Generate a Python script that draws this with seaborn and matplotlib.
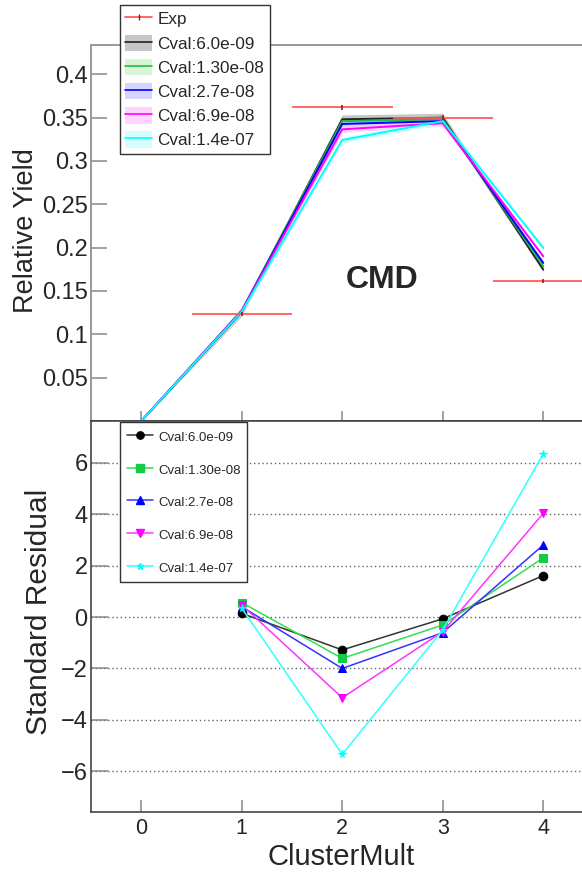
import numpy as np
import pandas as pd
import matplotlib
matplotlib.use("Agg")
import matplotlib.pyplot as plt
import seaborn as sns
from matplotlib.patches import Patch
from matplotlib.lines import Line2D
from matplotlib.ticker import FixedLocator, FuncFormatter

# ---- data -------------------------------------------------------------
cluster_mult = [0, 1, 2, 3, 4]
exp_x = [1, 2, 3, 4]
exp_yield = [0.1238, 0.3619, 0.3500, 0.1612]
exp_xerr = [0.5, 0.5, 0.5, 0.5]
exp_yerr = [0.0025, 0.0030, 0.0025, 0.0025]

cval_labels = ["Cval:6.0e-09", "Cval:1.30e-08", "Cval:2.7e-08",
               "Cval:6.9e-08", "Cval:1.4e-07"]

yield_6p0e09 = [0.0, 0.1255, 0.3481, 0.3500, 0.1747]
yield_1p30e08 = [0.0, 0.1275, 0.3460, 0.3480, 0.1785]
yield_2p7e08 = [0.0, 0.1270, 0.3427, 0.3460, 0.1824]
yield_6p9e08 = [0.0, 0.1272, 0.3365, 0.3435, 0.1900]
yield_1p4e07 = [0.0, 0.1262, 0.3242, 0.3460, 0.1997]

band_6p0e09 = [0.0, 0.0045, 0.0050, 0.0050, 0.0025]
band_1p30e08 = [0.0, 0.0035, 0.0030, 0.0030, 0.0020]
band_2p7e08 = [0.0, 0.0045, 0.0035, 0.0035, 0.0020]
band_6p9e08 = [0.0, 0.0035, 0.0035, 0.0035, 0.0020]
band_1p4e07 = [0.0, 0.0030, 0.0035, 0.0035, 0.0020]

resid_x = [1, 2, 3, 4]
resid_6p0e09 = [0.14, -1.28, -0.07, 1.61]
resid_1p30e08 = [0.56, -1.61, -0.31, 2.30]
resid_2p7e08 = [0.40, -2.00, -0.61, 2.80]
resid_6p9e08 = [0.47, -3.14, -0.57, 4.03]
resid_1p4e07 = [0.34, -5.34, -0.50, 6.34]

yields = [yield_6p0e09, yield_1p30e08, yield_2p7e08, yield_6p9e08, yield_1p4e07]
bands = [band_6p0e09, band_1p30e08, band_2p7e08, band_6p9e08, band_1p4e07]
resids = [resid_6p0e09, resid_1p30e08, resid_2p7e08, resid_6p9e08, resid_1p4e07]

# ---- styling ----------------------------------------------------------
sns.set_style("ticks")
plt.rcParams["font.family"] = ["Liberation Sans", "DejaVu Sans"]
plt.rcParams["axes.unicode_minus"] = True

line_colors = ["#222222", "#22bb44", "#0000ff", "#ff00ff", "#00ffff"]
band_colors = ["#b4b4b4", "#c8f2c8", "#c4c4ff", "#ffc4ff", "#c4ffff"]
band_alpha = [0.75, 0.7, 0.7, 0.7, 0.7]
res_line_colors = ["#333333", "#33dd55", "#3333ff", "#ff33ff", "#33ffff"]
res_marker_colors = ["#000000", "#11cc44", "#0000ff", "#ff00ff", "#00ffff"]
res_markers = ["o", "s", "^", "v", "*"]
res_msizes = [6.2, 6.2, 6.2, 6.2, 5.5]
exp_color = "#ff5a5a"

W, H = 582, 872
fig = plt.figure(figsize=(W / 100, H / 100), dpi=100)

left_px, right_px = 91, 588
top_px, mid_px, bot_px = 45, 421, 812
ax_top = fig.add_axes([left_px / W, 1 - mid_px / H, (right_px - left_px) / W, (mid_px - top_px) / H])
ax_bot = fig.add_axes([left_px / W, 1 - bot_px / H, (right_px - left_px) / W, (bot_px - mid_px) / H])

xlim = (-0.5, -0.5 + (right_px - left_px) / 100.5)

# ---- upper panel: relative yield -------------------------------------
x = np.array(cluster_mult, dtype=float)
for yv, bv, bc, ba in zip(yields, bands, band_colors, band_alpha):
    yv = np.array(yv)
    bv = np.array(bv)
    ax_top.fill_between(x, yv - bv, yv + bv, color=bc, alpha=ba, linewidth=0, zorder=1)

model_handles = []
for yv, lc, bc, ba in zip(yields, line_colors, band_colors, band_alpha):
    sns.lineplot(x=cluster_mult, y=yv, ax=ax_top, color=lc, linewidth=1.4,
                 legend=False, zorder=3)
    ln = Line2D([], [], color=lc, linewidth=1.2)
    pt = Patch(facecolor=bc, alpha=ba, edgecolor="none")
    model_handles.append((pt, ln))

ax_top.errorbar(exp_x, exp_yield, xerr=exp_xerr, fmt="none",
                ecolor=exp_color, elinewidth=1.3, capsize=0, zorder=4)
ax_top.errorbar(exp_x, exp_yield, yerr=exp_yerr, fmt="none",
                ecolor="#aa1111", elinewidth=1.2, capsize=0, zorder=4)
exp_handle = Line2D([], [], color=exp_color, linewidth=1.3, marker="|",
                    markersize=4, markeredgecolor="#aa1111", markeredgewidth=1.0)

ax_top.set_xlim(*xlim)
ax_top.set_ylim(0, (mid_px - top_px) / 866.75)
ax_top.yaxis.set_major_locator(FixedLocator([0, 0.05, 0.1, 0.15, 0.2, 0.25, 0.3, 0.35, 0.4]))
ax_top.yaxis.set_major_formatter(FuncFormatter(lambda v, p: "" if abs(v) < 1e-9 else f"{v:g}"))
ax_top.xaxis.set_major_locator(FixedLocator(cluster_mult))
ax_top.tick_params(axis="x", direction="in", length=7, width=1.1, color="#888888",
                   labelbottom=False)
ax_top.tick_params(axis="y", direction="in", length=11.5, width=1.1, color="#888888",
                   labelsize=17, pad=2.5)
for side in ["top", "left"]:
    ax_top.spines[side].set_color("#999999")
    ax_top.spines[side].set_linewidth(1.4)
ax_top.spines["bottom"].set_color("#444444")
ax_top.spines["bottom"].set_linewidth(1.2)
ax_top.spines["right"].set_visible(False)

ax_top.set_ylabel("Relative Yield", fontsize=19.5)
ax_top.yaxis.label.set_va("baseline")
ax_top.yaxis.set_label_coords(33 / W, 1 - 231 / H, transform=fig.transFigure)

fig.text(381.7 / W, 1 - 288.3 / H, "CMD", fontsize=23, fontweight="bold",
         ha="center", va="baseline")

leg_top = ax_top.legend([exp_handle] + model_handles, ["Exp"] + cval_labels,
                        loc="upper left", bbox_to_anchor=(120 / W, 1 - 5 / H),
                        bbox_transform=fig.transFigure, borderaxespad=0,
                        fontsize=12.3, handlelength=1.58, handleheight=1.1,
                        handletextpad=0.3, labelspacing=0.42, borderpad=0.32,
                        fancybox=False, frameon=True, framealpha=1,
                        edgecolor="#333333")
leg_top.get_frame().set_linewidth(1.0)
leg_top.set_zorder(10)

# ---- lower panel: standard residuals ---------------------------------
res_handles = []
for rv, lc, mc, mk, ms in zip(resids, res_line_colors, res_marker_colors, res_markers, res_msizes):
    sns.lineplot(x=resid_x, y=rv, ax=ax_bot, color=lc, linewidth=1.1,
                 marker=mk, markersize=ms, markerfacecolor=mc, markeredgecolor=mc,
                 legend=False, zorder=3)
    res_handles.append(Line2D([], [], color=lc, linewidth=1.1, marker=mk,
                              markersize=ms, markerfacecolor=mc, markeredgecolor=mc))

ax_bot.set_xlim(*xlim)
ax_bot.set_ylim(-(bot_px - 617) / 25.72, (617 - mid_px) / 25.72)
ax_bot.yaxis.set_major_locator(FixedLocator([-6, -4, -2, 0, 2, 4, 6]))
ax_bot.xaxis.set_major_locator(FixedLocator(cluster_mult))
ax_bot.yaxis.grid(True, linestyle=(0, (1, 2)), color="#666666", linewidth=1.0)
ax_bot.set_axisbelow(True)
ax_bot.tick_params(axis="x", direction="in", length=8.6, width=1.1, color="#888888",
                   labelsize=15.5, pad=4.3)
ax_bot.tick_params(axis="y", direction="in", length=12, width=1.1, color="#888888",
                   labelsize=17, pad=2.5)
for side in ["left", "bottom", "top"]:
    ax_bot.spines[side].set_color("#444444")
    ax_bot.spines[side].set_linewidth(1.2)
ax_bot.spines["right"].set_visible(False)

ax_bot.set_ylabel("Standard Residual", fontsize=21.5)
ax_bot.yaxis.label.set_va("baseline")
ax_bot.yaxis.set_label_coords(47 / W, 1 - 612 / H, transform=fig.transFigure)
ax_bot.set_xlabel("ClusterMult", fontsize=21)
ax_bot.xaxis.label.set_va("baseline")
ax_bot.xaxis.set_label_coords(341 / W, 1 - 865 / H, transform=fig.transFigure)

leg_bot = ax_bot.legend(res_handles, cval_labels, loc="upper left",
                        bbox_to_anchor=(120 / W, 1 - 422 / H),
                        bbox_transform=fig.transFigure, borderaxespad=0,
                        fontsize=9.5, handlelength=2.0, handleheight=1.5,
                        handletextpad=0.38, labelspacing=1.26, borderpad=0.5,
                        numpoints=1, markerscale=0.85, fancybox=False,
                        frameon=True, framealpha=1, edgecolor="#333333")
leg_bot.get_frame().set_linewidth(1.0)
leg_bot.set_zorder(10)

fig.savefig("out.png", dpi=100)
